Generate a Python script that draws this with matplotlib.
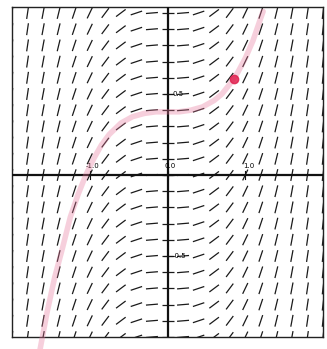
import numpy as np
import matplotlib
matplotlib.use("Agg")
import matplotlib.pyplot as plt
from matplotlib.collections import LineCollection

# --- data ---
grid_x = [-2.0, -1.8, -1.6, -1.4, -1.2, -1.0, -0.8, -0.6, -0.4, -0.2, 0.0,
          0.2, 0.4, 0.6, 0.8, 1.0, 1.2, 1.4, 1.6, 1.8, 2.0]
column_slopes = [4.0, 3.24, 2.56, 1.96, 1.44, 1.0, 0.64, 0.36, 0.16, 0.04, 0.0,
                 0.04, 0.16, 0.36, 0.64, 1.0, 1.44, 1.96, 2.56, 3.24, 4.0]
grid_y = [-1.0, -0.9, -0.8, -0.7, -0.6, -0.5, -0.4, -0.3, -0.2, -0.1, 0.0,
          0.1, 0.2, 0.3, 0.4, 0.5, 0.6, 0.7, 0.8, 0.9, 1.0]

curve_x = [-1.66, -1.55, -1.45, -1.35, -1.25, -1.15, -1.05, -0.95, -0.85, -0.75,
           -0.6, -0.45, -0.3, -0.15, 0.0, 0.15, 0.3, 0.45, 0.6, 0.7, 0.8,
           0.9, 1.0, 1.1, 1.2, 1.23]
curve_y = [-1.13, -0.85, -0.63, -0.45, -0.26, -0.12, 0.0, 0.10, 0.185, 0.25,
           0.32, 0.36, 0.38, 0.39, 0.39, 0.39, 0.40, 0.42, 0.46, 0.50, 0.56,
           0.63, 0.72, 0.83, 0.97, 1.01]
point_x = [0.86]
point_y = [0.59]

x_tick_vals = [-1.0, 0.0, 1.0]
x_tick_labels = ["-1.0", "0.0", "1.0"]
y_tick_vals = [-0.5, 0.0, 0.5]
y_tick_labels = ["-0.5", "0.0", "0.5"]

W, H = 327, 349
fig = plt.figure(figsize=(W / 100, H / 100), dpi=100)
left, right, top, bottom = 12, 323, 7, 337
ax = fig.add_axes([left / W, 1 - bottom / H, (right - left) / W, (bottom - top) / H])
ax.set_xlim(-2.0, 2.0)
ax.set_ylim(-1.0, 1.037)
for s in ax.spines.values():
    s.set_linewidth(1.0)
    s.set_color("#222222")
ax.set_xticks([])
ax.set_yticks([])

# pixel scales
sx = (right - left) / 4.0
sy = (bottom - top) / 2.037
L = 12.0  # segment length in pixels
segs = []
for xv, m in zip(grid_x, column_slopes):
    px, py = sx * 1.0, sy * m
    n = np.hypot(px, py)
    hx = (px / n) * L / 2 / sx
    hy = (py / n) * L / 2 / sy
    for yv in grid_y:
        segs.append([(xv - hx, yv - hy), (xv + hx, yv + hy)])
lc = LineCollection(segs, colors="#1a1a1a", linewidths=0.9)
ax.add_collection(lc)

# axes through origin
ax.axhline(0, color="#111111", lw=1.6, zorder=3)
ax.axvline(0, color="#111111", lw=1.6, zorder=3)

# ticks and labels
tl = 4 / sy
for xv, lab in zip(x_tick_vals, x_tick_labels):
    ax.plot([xv, xv], [-tl, tl], color="#111111", lw=0.8, zorder=3)
    ax.text(xv + 0.04, 0.035, lab, fontsize=5, ha="center", va="bottom", zorder=4)
tlx = 4 / sx
for yv, lab in zip(y_tick_vals, y_tick_labels):
    ax.plot([-tlx, tlx], [yv, yv], color="#111111", lw=0.8, zorder=3)
    if yv != 0.0:
        ax.text(0.06, yv, lab, fontsize=5, ha="left", va="center", zorder=4)

# solution curve
ax.plot(curve_x, curve_y, color="#e8789c", lw=4.0, alpha=0.35, clip_on=False,
        solid_capstyle="round", zorder=5)
ax.plot(point_x, point_y, "o", color="#e0204e", ms=6, alpha=0.85, zorder=6)

fig.savefig("out.png", dpi=100)
